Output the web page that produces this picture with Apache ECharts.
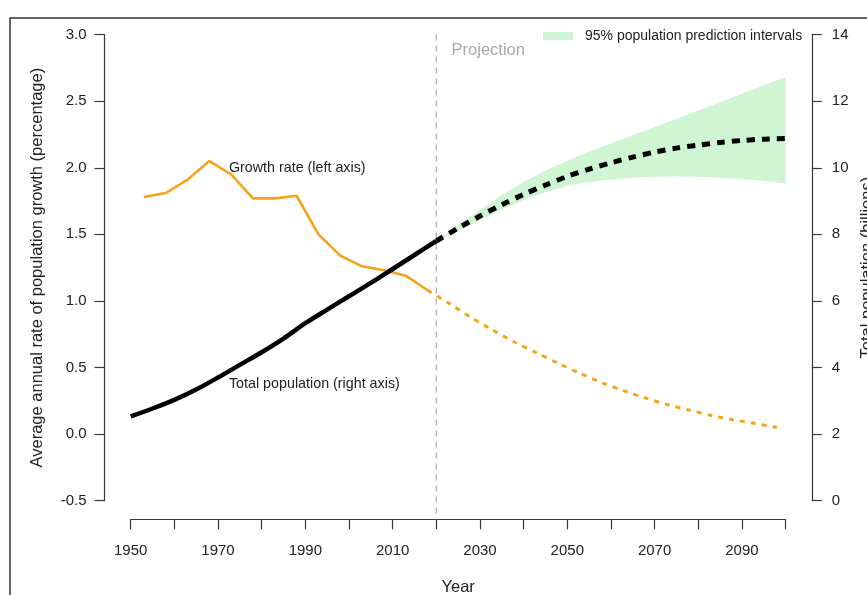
<!DOCTYPE html>
<html>
<head>
<meta charset="utf-8">
<title>World population and growth rate, 1950-2100</title>
<script src="https://cdn.jsdelivr.net/npm/echarts@6/dist/echarts.min.js"></script>
<style>
  html, body { margin: 0; padding: 0; background: #fff; overflow: hidden; }
  #chart { width: 867px; height: 595px; }
</style>
</head>
<body>
<div id="chart"></div>
<script>
// Average annual growth rate (%) by five-year period, estimates
const growthYears = [1953, 1958, 1963, 1968, 1973, 1978, 1983, 1988, 1993, 1998, 2003, 2008, 2013, 2018];
const growthRate  = [1.78, 1.81, 1.91, 2.05, 1.95, 1.77, 1.77, 1.79, 1.50, 1.34, 1.26, 1.23, 1.19, 1.08];

// Growth rate projection (%)
const growthProjYears = [2018, 2023, 2028, 2033, 2038, 2043, 2048, 2053, 2058, 2063, 2068, 2073, 2078, 2083, 2088, 2093, 2098];
const growthProj      = [1.08, 0.98, 0.875, 0.78, 0.69, 0.61, 0.53, 0.455, 0.385, 0.325, 0.27, 0.22, 0.18, 0.14, 0.108, 0.08, 0.05];

// Total population (billions), estimates
const popYears = [1950, 1955, 1960, 1965, 1970, 1975, 1980, 1985, 1990, 1995, 2000, 2005, 2010, 2015, 2020];
const popTotal = [2.53, 2.77, 3.03, 3.34, 3.70, 4.08, 4.46, 4.87, 5.33, 5.74, 6.14, 6.54, 6.96, 7.38, 7.80];

// Total population projection (billions) with 95% prediction interval
const projYears = [2020, 2025, 2030, 2035, 2040, 2045, 2050, 2055, 2060, 2065, 2070, 2075, 2080, 2085, 2090, 2095, 2100];
const popProj   = [7.80, 8.19, 8.55, 8.89, 9.20, 9.48, 9.74, 9.96, 10.15, 10.32, 10.47, 10.59, 10.68, 10.76, 10.82, 10.86, 10.88];
const piLower   = [7.80, 8.10, 8.42, 8.75, 9.02, 9.27, 9.45, 9.57, 9.65, 9.70, 9.73, 9.74, 9.73, 9.70, 9.66, 9.60, 9.53];
const piUpper   = [7.80, 8.27, 8.74, 9.18, 9.57, 9.91, 10.21, 10.48, 10.73, 10.97, 11.22, 11.47, 11.72, 11.97, 12.22, 12.48, 12.73];

// Axis ticks
const xTicks = { min: 1950, max: 2100, step: 10, labelStep: 20 };
const leftTicks = { min: -0.5, max: 3.0, step: 0.5 };
const rightTicks = { min: 0, max: 14, step: 2 };

const FONT = '"Liberation Sans", Arial, Helvetica, sans-serif';
const ORANGE = '#f4a41c';
const GREEN = '#cff5d3';
const AXIS = '#3a3a3a';
const TEXT = '#222';

const pairs = (xs, ys) => xs.map((x, i) => [x, ys[i]]);

const W = 867, H = 595;
const chart = echarts.init(document.getElementById('chart'), null, { renderer: 'canvas', width: W, height: H });

const axisCommon = {
  axisLine: { show: true, onZero: false, lineStyle: { color: AXIS, width: 1.2 } },
  axisTick: { show: true, inside: false, length: 10, lineStyle: { color: AXIS, width: 1.2 } },
  splitLine: { show: false },
  nameTextStyle: { fontFamily: FONT, fontSize: 16.5, color: TEXT },
};

// Prediction interval band: one polygon through upper edge then lower edge
function renderBand(params, api) {
  if (params.dataIndex !== 0) return null;
  const n = projYears.length;
  const pts = [];
  for (let i = 0; i < n; i++) pts.push(api.coord([api.value(0, i), api.value(2, i)]));
  for (let i = n - 1; i >= 0; i--) pts.push(api.coord([api.value(0, i), api.value(1, i)]));
  return {
    type: 'polygon',
    shape: { points: pts },
    style: { fill: GREEN, stroke: null },
    silent: true,
  };
}

const option = {
  animation: false,
  backgroundColor: '#fff',
  grid: {
    left: 130.7, right: 81.4, top: 34.6, bottom: 94.3,
    containLabel: false, outerBoundsMode: 'none',
  },
  legend: {
    data: ['95% population prediction intervals'],
    left: 543, top: 29, padding: 0,
    itemWidth: 30, itemHeight: 8,
    icon: 'rect',
    textStyle: { fontFamily: FONT, fontSize: 14, color: TEXT, padding: [0, 0, 0, 7] },
    selectedMode: false,
  },
  xAxis: {
    ...axisCommon,
    type: 'value',
    min: xTicks.min, max: xTicks.max, interval: xTicks.step,
    offset: 18.6,
    name: 'Year', nameLocation: 'middle', nameGap: 60,
    axisLabel: {
      fontFamily: FONT, fontSize: 15, color: TEXT, margin: 24,
      formatter: v => ((v - xTicks.min) % xTicks.labelStep === 0 && v < xTicks.max) ? String(v) : '',
    },
  },
  yAxis: [
    {
      ...axisCommon,
      type: 'value', position: 'left',
      min: leftTicks.min, max: leftTicks.max, interval: leftTicks.step,
      offset: 26.2,
      name: 'Average annual rate of population growth (percentage)',
      nameLocation: 'middle', nameGap: 59, nameRotate: 90,
      axisLabel: { fontFamily: FONT, fontSize: 15, color: TEXT, margin: 18, formatter: v => v.toFixed(1) },
    },
    {
      ...axisCommon,
      type: 'value', position: 'right',
      min: rightTicks.min, max: rightTicks.max, interval: rightTicks.step,
      offset: 26.2,
      name: 'Total population (billions)',
      nameLocation: 'middle', nameGap: 44, nameRotate: 90,
      axisLabel: { fontFamily: FONT, fontSize: 15, color: TEXT, margin: 20 },
    },
  ],
  series: [
    {
      name: '95% population prediction intervals', type: 'custom', yAxisIndex: 1,
      renderItem: renderBand,
      data: projYears.map((x, i) => [x, piLower[i], piUpper[i]]),
      encode: { x: 0, y: [1, 2] },
      itemStyle: { color: GREEN },
      silent: true, z: 1,
    },
    {
      name: 'Growth rate', type: 'line', yAxisIndex: 0,
      data: pairs(growthYears, growthRate),
      symbol: 'none', lineStyle: { color: ORANGE, width: 2.6 }, z: 3,
    },
    {
      name: 'Growth rate projection', type: 'line', yAxisIndex: 0,
      data: pairs(growthProjYears, growthProj),
      symbol: 'none', smooth: 0.3,
      lineStyle: { color: ORANGE, width: 3, type: [5, 6] }, z: 3,
    },
    {
      name: 'Total population', type: 'line', yAxisIndex: 1,
      data: pairs(popYears, popTotal),
      symbol: 'none', smooth: 0.3, lineStyle: { color: '#000', width: 4.5 }, z: 4,
    },
    {
      name: 'Total population projection', type: 'line', yAxisIndex: 1,
      data: pairs(projYears, popProj),
      symbol: 'none', smooth: 0.3,
      lineStyle: { color: '#000', width: 5, type: [8, 7] }, z: 4,
    },
  ],
};

chart.setOption(option);

// Annotations placed through the axis scales
const toPx = (x, y, yi) => chart.convertToPixel({ xAxisIndex: 0, yAxisIndex: yi }, [x, y]);
const divTop = toPx(2020, leftTicks.max, 0);
const divBottom = toPx(2020, -0.64, 0);
const growthLbl = toPx(1972.5, 2.0, 0);
const popLbl = toPx(1972.5, 3.5, 1);
const projLbl = toPx(2023.5, 2.88, 0);

chart.setOption({
  graphic: [
    {
      type: 'rect', silent: true, z: 0,
      shape: { x: 10, y: 18, width: 900, height: 700 },
      style: { fill: 'none', stroke: '#333', lineWidth: 1.5 },
    },
    {
      type: 'line', silent: true, z: 2,
      shape: { x1: divTop[0], y1: divTop[1], x2: divBottom[0], y2: divBottom[1] },
      style: { stroke: '#b5b5b5', lineWidth: 1.4, lineDash: [6, 5] },
    },
    {
      type: 'text', silent: true, z: 5, x: growthLbl[0], y: growthLbl[1],
      style: { text: 'Growth rate (left axis)', font: '14.3px ' + FONT, fill: TEXT, textAlign: 'left', textVerticalAlign: 'middle' },
    },
    {
      type: 'text', silent: true, z: 5, x: popLbl[0], y: popLbl[1],
      style: { text: 'Total population (right axis)', font: '14.3px ' + FONT, fill: TEXT, textAlign: 'left', textVerticalAlign: 'middle' },
    },
    {
      type: 'text', silent: true, z: 5, x: projLbl[0], y: projLbl[1],
      style: { text: 'Projection', font: '16.5px ' + FONT, fill: '#a8a8a8', textAlign: 'left', textVerticalAlign: 'middle' },
    },
  ],
});
</script>
</body>
</html>
